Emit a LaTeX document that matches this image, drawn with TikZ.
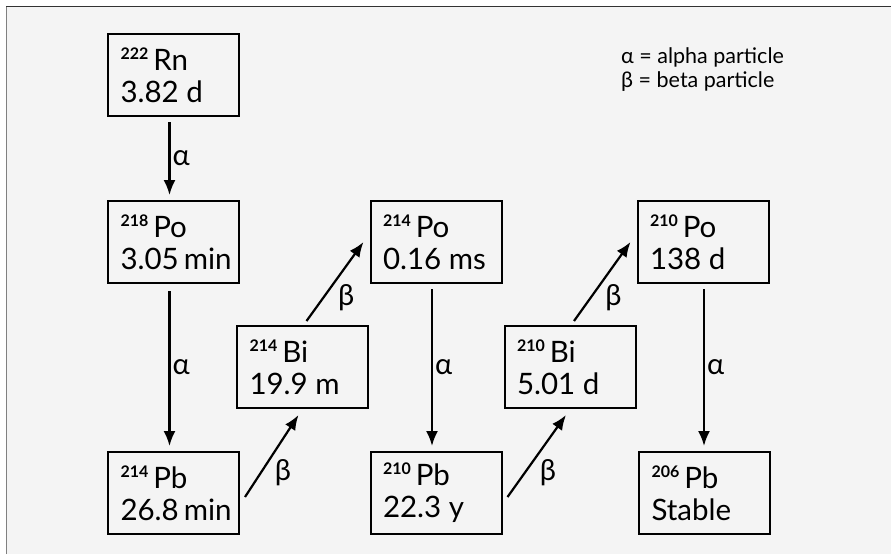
\documentclass[tikz,border=0pt]{standalone}
\usepackage{fontspec}
\setmainfont{Lato}
\usetikzlibrary{arrows.meta}
\definecolor{panel}{RGB}{244, 244, 244}
\tikzset{%
    nuclide/.style={%
        draw, line width=2pt, fill=panel,
        text width=106pt, inner xsep=12.5pt, minimum height=82pt,
        align=flush left, font=\fontsize{29.5}{32}\selectfont
    },
    decay/.style={%
        -{Latex[length=15pt, width=12pt]}, line width=2.2pt
    },
    lbl/.style={font=\fontsize{29}{29}\selectfont, inner sep=2pt},
    legend/.style={anchor=base west, inner sep=0pt, font=\fontsize{21.5}{24}\selectfont}
}
\newcommand{\iso}[2]{\raisebox{11pt}{\fontsize{16}{16}\selectfont\bfseries #1}\,#2}

\begin{document}
\begin{tikzpicture}[x=1pt, y=1pt]

    \useasboundingbox (0, 0) rectangle (891, -554);

    % Panel
    \fill[panel] (6, -6) rectangle (891, -554);
    \draw[gray, line width=1pt] (6, -554) -- (6, -6);
    \draw[black!80, line width=1pt] (6, -6) -- (891, -6);

    % Legend
    \node[legend] (leg-alpha) at (621, -63) {α = alpha particle};
    \node[legend] (leg-beta) at (621, -87) {β = beta particle};

    % Nuclides
    \node[nuclide] (rn222) at (173.5, -75) {\iso{222}{Rn}\\3.82~d};
    \node[nuclide] (po218) at (173.5, -242) {\iso{218}{Po}\\3.05~min};
    \node[nuclide] (pb214) at (173.5, -493) {\iso{214}{Pb}\\26.8~min};
    \node[nuclide] (bi214) at (302.5, -367) {\iso{214}{Bi}\\19.9~m};
    \node[nuclide] (po214) at (436, -242) {\iso{214}{Po}\\0.16~ms};
    \node[nuclide] (pb210) at (436, -493) {\iso{210}{Pb}\\22.3~y};
    \node[nuclide] (bi210) at (570, -367) {\iso{210}{Bi}\\5.01~d};
    \node[nuclide] (po210) at (703, -242) {\iso{210}{Po}\\138~d};
    \node[nuclide] (pb206) at (704.5, -493) {\iso{206}{Pb}\\Stable};

    % Alpha decays
    \draw[decay, shorten <=5pt, shorten >=5pt]
        ([xshift=-4pt] rn222.south) -- ([xshift=-4pt] po218.north)
        node[lbl, midway, right] (a1) {α};
    \draw[decay, shorten <=7pt, shorten >=5pt]
        ([xshift=-4pt] po218.south) -- ([xshift=-4pt] pb214.north)
        node[lbl, midway, right] (a2) {α};
    \draw[decay, shorten <=5pt, shorten >=5pt]
        ([xshift=-4pt] po214.south) -- ([xshift=-4pt] pb210.north)
        node[lbl, midway, right] (a3) {α};
    \draw[decay, shorten <=5pt, shorten >=5pt]
        ([xshift=1pt] po210.south) -- ([xshift=-0.5pt] pb206.north)
        node[lbl, midway, right] (a4) {α};

    % Beta decays
    \draw[decay]
        ([shift={(5pt, -4pt)}] pb214.east) -- ([shift={(-4pt, -6pt)}] bi214.south)
        node[lbl, midway, below right=0pt] (b1) {β};
    \draw[decay]
        ([shift={(4pt, 4pt)}] bi214.north) -- ([shift={(-6pt, 0pt)}] po214.west)
        node[lbl, midway, below right=0pt] (b2) {β};
    \draw[decay]
        ([shift={(5pt, -4pt)}] pb210.east) -- ([shift={(-4pt, -6pt)}] bi210.south)
        node[lbl, midway, below right=0pt] (b3) {β};
    \draw[decay]
        ([shift={(4pt, 4pt)}] bi210.north) -- ([shift={(-6pt, 0pt)}] po210.west)
        node[lbl, midway, below right=0pt] (b4) {β};

\end{tikzpicture}
\end{document}
